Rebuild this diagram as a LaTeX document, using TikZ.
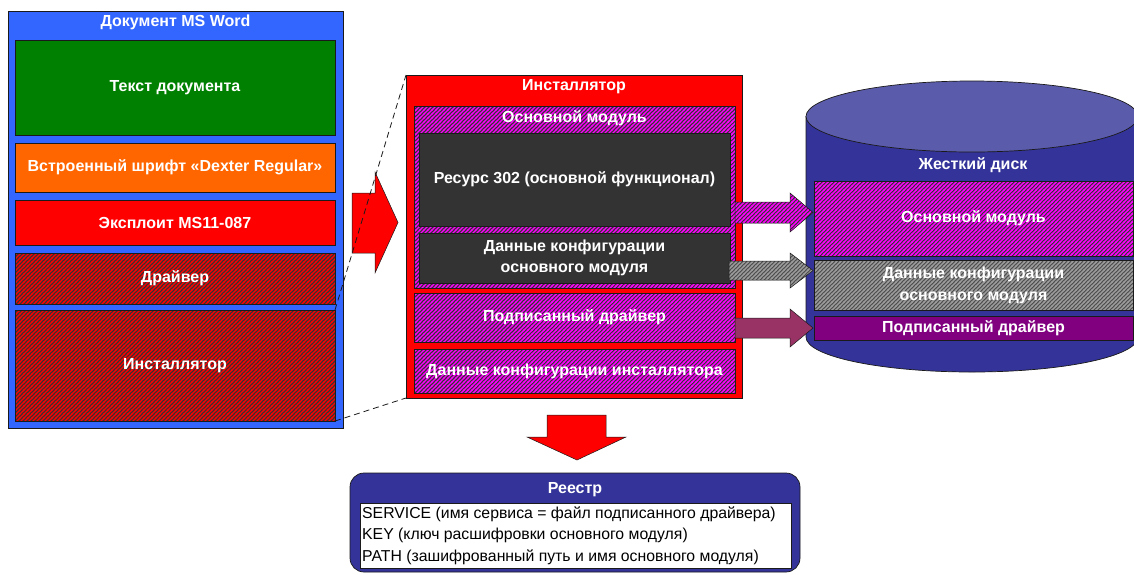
\documentclass[tikz,border=0pt]{standalone}
\usepackage{fontspec}
\setmainfont{Liberation Sans}
\usetikzlibrary{patterns}
\pgfdeclarepatternformonly{widehatch}{\pgfqpoint{-1pt}{-1pt}}{\pgfqpoint{5pt}{5pt}}{\pgfqpoint{4pt}{4pt}}{%
  \pgfsetlinewidth{1.4pt}%
  \pgfpathmoveto{\pgfqpoint{-1pt}{-1pt}}%
  \pgfpathlineto{\pgfqpoint{5pt}{5pt}}%
  \pgfusepath{stroke}}
\definecolor{docblue}{HTML}{3366FF}
\definecolor{docgreen}{HTML}{008000}
\definecolor{docorange}{HTML}{FF6600}
\definecolor{docred}{HTML}{FF0000}
\definecolor{darkbg}{HTML}{333333}
\definecolor{magentfg}{HTML}{FF00FF}
\definecolor{grayfg}{HTML}{9C9C9C}
\definecolor{graybg}{HTML}{4D4D4D}
\definecolor{cylbody}{HTML}{333399}
\definecolor{cyltop}{HTML}{5B5BAB}
\definecolor{diskpurple}{HTML}{800080}
\definecolor{arrowplum}{HTML}{993366}
\definecolor{edge}{HTML}{1A1A1A}
\begin{document}
\begin{tikzpicture}[x=1pt,y=-1pt,
  boxed/.style={draw=edge, line width=0.7pt, inner sep=0pt, outer sep=0pt},
  wh/.style 2 args={minimum width=#1, minimum height=#2},
  hatch/.style 2 args={preaction={fill=#1}, pattern=widehatch, pattern color=#2},
  lbl/.style={text=white, font=\fontsize{16}{21}\selectfont\bfseries, align=center, inner sep=0pt},
  reg/.style={text=black, font=\fontsize{15.8}{21.5}\selectfont, align=left, inner sep=0pt},
  dashline/.style={draw=edge, line width=0.8pt, dash pattern=on 6pt off 4pt},
  blockarrow/.style={draw=edge, line width=0.5pt}]
\useasboundingbox (0,0) rectangle (1134,574);

% ---- MS Word document ----
\node[boxed, fill=docblue, wh={335}{417}] (doc) at (175.5,219.5) {};
\node[lbl] (docT) at (175.5,22) {Документ MS Word};
\node[boxed, fill=docgreen, wh={320}{95}, lbl] (text) at (175,87.5) {Текст документа};
\node[boxed, fill=docorange, wh={320}{49}, lbl] (font) at (175,167.5) {Встроенный шрифт «Dexter Regular»};
\node[boxed, fill=docred, wh={320}{45}, lbl] (expl) at (175,222.5) {Эксплоит MS11-087};
\node[boxed, hatch={darkbg}{docred}, wh={320}{51}, lbl] (drv) at (175,278.5) {Драйвер};
\node[boxed, hatch={darkbg}{docred}, wh={320}{111}, lbl] (inst) at (175,365.5) {Инсталлятор};

% ---- big red arrow ----
\path[blockarrow, fill=docred] (352,193) -- (375,193) -- (375,172) -- (398,222.5)
  -- (375,273) -- (375,253) -- (352,253) -- cycle;

% ---- Installer ----
\node[boxed, fill=docred, wh={336}{323}] (bigi) at (574,236.5) {};
\node[lbl] (bigiT) at (574,87) {Инсталлятор};
\node[boxed, hatch={darkbg}{magentfg}, wh={321}{182}] (mod) at (574.5,197) {};
\node[lbl] (modT) at (574.5,118) {Основной модуль};
\node[boxed, fill=darkbg, wh={311}{93}, lbl] (res) at (574.5,179.5) {Ресурс 302 (основной функционал)};
\node[boxed, fill=darkbg, wh={311}{50}, lbl] (cfg) at (574.5,258) {Данные конфигурации\\основного модуля};
\node[boxed, hatch={darkbg}{magentfg}, wh={321}{49}, lbl] (sdrv) at (574.5,317.5) {Подписанный драйвер};
\node[boxed, hatch={darkbg}{magentfg}, wh={321}{44}, lbl] (icfg) at (574.5,371) {Данные конфигурации инсталлятора};

% ---- zoom lines ----
\draw[dashline] (inst.north east) -- (bigi.north west);
\draw[dashline] (inst.south east) -- (bigi.south west);

% ---- Hard disk cylinder ----
\path[draw=edge, line width=0.7pt, fill=cylbody] (806,116.5) -- (806,337)
  arc[start angle=180, end angle=0, x radius=166, y radius=35] -- (1138,116.5) -- cycle;
\path[draw=edge, line width=0.7pt, fill=cyltop] (972,116.5) ellipse [x radius=166, y radius=35.5];
\node[lbl] (diskT) at (973,165) {Жесткий диск};
\node[boxed, hatch={darkbg}{magentfg}, wh={319}{75}, lbl] (dmod) at (973.5,218.5) {Основной модуль};
\node[boxed, hatch={graybg}{grayfg}, wh={319}{50}, lbl, font=\fontsize{16}{22}\selectfont\bfseries] (dcfg) at (973.5,285) {Данные конфигурации\\основного модуля};
\node[boxed, fill=diskpurple, wh={319}{24}, lbl] (ddrv) at (973.5,328) {Подписанный драйвер};

% ---- arrows to disk ----
\path[blockarrow, hatch={darkbg}{magentfg}] (735,202) -- (790,202) -- (790,193) -- (813,212.5)
  -- (790,232) -- (790,223) -- (735,223) -- cycle;
\path[blockarrow, hatch={graybg}{grayfg}] (729,261) -- (790,261) -- (790,253) -- (813,270.5)
  -- (790,288) -- (790,280) -- (729,280) -- cycle;
\path[blockarrow, fill=arrowplum] (735,318) -- (790,318) -- (790,309) -- (813,328)
  -- (790,347) -- (790,338) -- (735,338) -- cycle;

% ---- down arrow ----
\path[blockarrow, fill=docred] (547,415) -- (606,415) -- (606,437) -- (626,437)
  -- (577,460) -- (527,437) -- (547,437) -- cycle;

% ---- Registry ----
\node[draw=edge, line width=0.7pt, fill=cylbody, rounded corners=14pt, inner sep=0pt, wh={450}{99}] (regbox) at (575,522.5) {};
\node[lbl] (regT) at (575,490) {Реестр};
\node[draw=edge, line width=0.7pt, fill=white, inner sep=0pt, wh={431}{65}] (regin) at (575.5,535.5) {};
\node[reg, anchor=west] (regtxt) at (362,535.5) {SERVICE (имя сервиса = файл подписанного драйвера)\\KEY (ключ расшифровки основного модуля)\\PATH (зашифрованный путь и имя основного модуля)};
\end{tikzpicture}
\end{document}
